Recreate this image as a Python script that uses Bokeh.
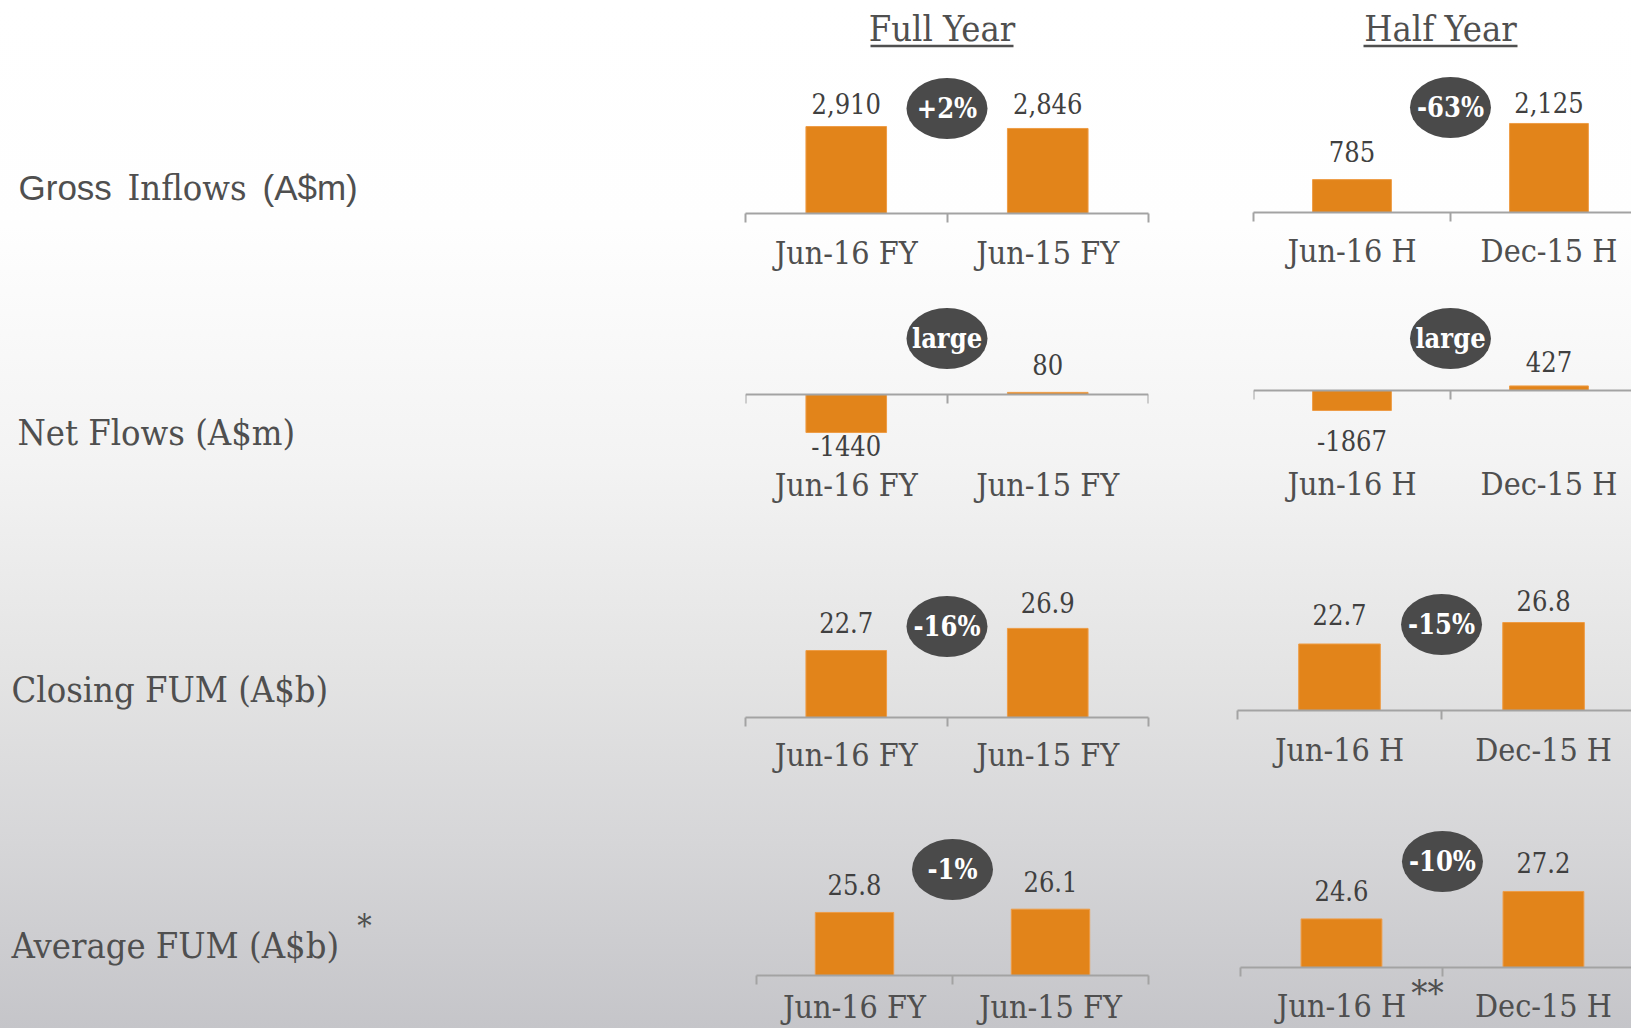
from bokeh.plotting import figure
from bokeh.layouts import row, column
from bokeh.models import Range1d, FixedTicker, LinearAxis, ColumnDataSource
from bokeh.core.properties import value
from bokeh.embed import file_html
from bokeh.resources import INLINE

# ---------------- data ----------------
row_titles = ["Gross Inflows (A$m)", "Net Flows (A$m)", "Closing FUM (A$b)", "Average FUM (A$b)"]
column_titles = ["Full Year", "Half Year"]
fy_categories = ["Jun-16 FY", "Jun-15 FY"]
hy_categories = ["Jun-16 H", "Dec-15 H"]
gross_inflows_fy = [2910, 2846]
gross_inflows_hy = [785, 2125]
net_flows_fy = [-1440, 80]
net_flows_hy = [-1867, 427]
closing_fum_fy = [22.7, 26.9]
closing_fum_hy = [22.7, 26.8]
average_fum_fy = [25.8, 26.1]
average_fum_hy = [24.6, 27.2]
change_fy = ["+2%", "large", "-16%", "-1%"]
change_hy = ["-63%", "large", "-15%", "-10%"]

# ---------------- style ----------------
SERIF = "DejaVu Serif Condensed"
SANS = "Liberation Sans"
BAR = "#E2841A"
BAR_EDGE = "#EE9C45"
BADGE = "#4A4A4A"
AXIS = "#A3A3A3"
TEXT = "#4F4F4F"
VALTEXT = "#404040"
GRADIENT = ("linear-gradient(to bottom, #ffffff 0%, #fefefe 22%, #f3f3f3 45%, "
            "#e4e4e4 65%, #d6d6d8 82%, #c5c5c9 100%)")


def fmt_thousands(v):
    return f"{v:,}"


def fmt_plain(v):
    return f"{v}"


def fmt_1dp(v):
    return f"{v:.1f}"


def clean(p):
    p.background_fill_alpha = 0
    p.border_fill_alpha = 0
    p.outline_line_color = None
    return p


def style_axis(ax, line=True, labels=True, standoff=10, size="32px"):
    ax.axis_line_color = AXIS if line else None
    ax.axis_line_width = 2
    ax.major_tick_line_color = None
    ax.major_tick_out = 0
    ax.major_tick_in = 0
    ax.minor_tick_line_color = AXIS if line else None
    ax.minor_tick_line_width = 2
    ax.minor_tick_out = 9 if line else 0
    ax.minor_tick_in = 0
    ax.major_label_standoff = standoff
    ax.major_label_text_font = SERIF
    ax.major_label_text_font_size = size
    ax.major_label_text_color = TEXT
    if not labels:
        ax.major_label_text_alpha = 0


def panel(cats, vals, fmt, change, *, width, height, left, right, top, frame_h,
          x_end, y_range, base, badge_px, label_d, standoff, mode="bottom", stars=None):
    bottom = height - top - frame_h
    y0, y1 = y_range
    p = figure(width=width, height=height, x_range=Range1d(0, x_end), y_range=Range1d(y0, y1),
               x_axis_type=None, y_axis_type=None, toolbar_location=None, output_backend="svg",
               min_border_left=left, min_border_right=right, min_border_top=top,
               min_border_bottom=bottom)
    p.frame_align = False
    clean(p)
    k = frame_h / (y1 - y0)
    p.extra_y_ranges = {"px": Range1d((y0 - base) * k, (y1 - base) * k)}

    xs = [i + 0.5 for i in range(len(cats))]
    src = ColumnDataSource(dict(
        x=xs, top=vals, label=[fmt(v) for v in vals],
        off=[-d if v >= 0 else d for v, d in zip(vals, label_d)],
    ))
    p.vbar(x="x", top="top", bottom=base, width=0.4, source=src,
           fill_color=BAR, line_color=BAR_EDGE, line_width=1)
    p.text(x="x", y="top", text="label", y_offset="off", text_baseline="middle", source=src,
           text_align="center", text_font=value(SERIF), text_font_size="27px",
           text_color=VALTEXT)

    p.ellipse(x=[1], y=[badge_px], width=81, height=61, width_units="screen",
              height_units="screen", y_range_name="px", fill_color=BADGE, line_color=None)
    p.text(x=[1], y=[badge_px], text=[change], y_range_name="px", text_align="center",
           text_baseline="middle", text_color="white", text_font_style="bold",
           text_font=value(SERIF), text_font_size="27px")

    bounds = list(range(len(cats) + 1))
    overrides = {x: c for x, c in zip(xs, cats)}
    if mode == "bottom":
        ax = LinearAxis(ticker=FixedTicker(ticks=xs, minor_ticks=bounds),
                        major_label_overrides=overrides)
        style_axis(ax, standoff=standoff)
        p.add_layout(ax, "below")
    else:  # "split": axis line at zero inside the frame, labels along the bottom
        line_ax = LinearAxis(ticker=FixedTicker(ticks=[], minor_ticks=bounds), fixed_location=base)
        style_axis(line_ax, labels=False)
        p.add_layout(line_ax, "below")
        lab_ax = LinearAxis(ticker=FixedTicker(ticks=xs, minor_ticks=[]),
                            major_label_overrides=overrides)
        style_axis(lab_ax, line=False, standoff=standoff)
        p.add_layout(lab_ax, "below")

    if stars is not None:
        sx, s_off, st = stars
        star_ax = LinearAxis(ticker=FixedTicker(ticks=[sx], minor_ticks=[]),
                             major_label_overrides={sx: st})
        style_axis(star_ax, line=False, standoff=s_off, size="36px")
        p.add_layout(star_ax, "below")
    return p


FYW, HYW = 500, 431

fy1 = panel(fy_categories, gross_inflows_fy, fmt_thousands, change_fy[0], width=FYW, height=225,
            left=45, right=52, top=0, frame_h=150, x_end=2, y_range=(0, 5020), base=0,
            badge_px=105, label_d=[23, 25], standoff=11)
hy1 = panel(hy_categories, gross_inflows_hy, fmt_thousands, change_hy[0], width=HYW, height=225,
            left=53, right=0, top=0, frame_h=149, x_end=1.919, y_range=(0, 3556), base=0,
            badge_px=105, label_d=[28, 21], standoff=10)

fy2 = panel(fy_categories, net_flows_fy, fmt_plain, change_fy[1], width=FYW, height=245,
            left=45, right=52, top=0, frame_h=170, x_end=2, y_range=(-2424, 4015), base=0,
            badge_px=56, label_d=[13, 28], standoff=7, mode="split")
hy2 = panel(hy_categories, net_flows_hy, fmt_plain, change_hy[1], width=HYW, height=245,
            left=53, right=0, top=0, frame_h=170, x_end=1.919, y_range=(-6355, 9533), base=0,
            badge_px=52, label_d=[30, 24], standoff=6, mode="split")

fy3 = panel(fy_categories, closing_fum_fy, fmt_1dp, change_fy[2], width=FYW, height=255,
            left=45, right=52, top=0, frame_h=184, x_end=2, y_range=(10, 44.9), base=10,
            badge_px=91, label_d=[28, 26], standoff=9)
hy3 = panel(hy_categories, closing_fum_hy, fmt_1dp, change_hy[2], width=HYW, height=255,
            left=37, right=0, top=0, frame_h=177, x_end=1.931, y_range=(10, 43.8), base=10,
            badge_px=86, label_d=[29, 22], standoff=11)

fy4 = panel(fy_categories, average_fum_fy, fmt_1dp, change_fy[3], width=FYW, height=240,
            left=56, right=52, top=0, frame_h=187, x_end=2, y_range=(20, 37.2), base=20,
            badge_px=106, label_d=[28, 28], standoff=3)
hy4 = panel(hy_categories, average_fum_hy, fmt_1dp, change_hy[3], width=HYW, height=240,
            left=40, right=0, top=0, frame_h=179, x_end=1.936, y_range=(20, 36.95), base=20,
            badge_px=106, label_d=[28, 29], standoff=10, stars=(0.926, -55, "**"))

# ---------------- header ----------------
HDR_H = 63
hdr = figure(width=FYW + HYW, height=HDR_H, x_range=Range1d(0, FYW + HYW),
             y_range=Range1d(HDR_H, 0), x_axis_type=None, y_axis_type=None,
             toolbar_location=None, output_backend="svg", min_border=0)
clean(hdr)
hdr_x = [241.5, 740]
hdr_half = [71.5, 77]
hdr.text(x=hdr_x, y=[28, 28], text=column_titles, text_align="center",
         text_baseline="middle", text_font=value(SERIF), text_font_size="36px",
         text_color=TEXT)
hdr.segment(x0=[c - h for c, h in zip(hdr_x, hdr_half)], y0=[45.5, 45.5],
            x1=[c + h for c, h in zip(hdr_x, hdr_half)], y1=[45.5, 45.5],
            line_color=TEXT, line_width=2.5)

# ---------------- row titles ----------------
PAGE_H = 1028
lf = figure(width=700, height=PAGE_H, x_range=Range1d(0, 700), y_range=Range1d(PAGE_H, 0),
            x_axis_type=None, y_axis_type=None, toolbar_location=None, output_backend="svg",
            min_border=0)
clean(lf)
g_words = row_titles[0].split(" ")  # Gross / Inflows / (A$m)
lf.text(x=[18, 262], y=[187, 187], text=[g_words[0], g_words[2]], text_align="left",
        text_baseline="middle", text_font=value(SANS), text_font_size="35px", text_color=TEXT)
lf.text(x=[127], y=[187], text=[g_words[1]], text_align="left", text_baseline="middle",
        text_font=value(SERIF), text_font_size="36px", text_color=TEXT)
lf.text(x=[17, 11, 11], y=[432, 689, 945], text=row_titles[1:], text_align="left",
        text_baseline="middle", text_font=value(SERIF), text_font_size="36px", text_color=TEXT)
lf.text(x=[364], y=[925], text=["*"], text_align="center", text_baseline="middle",
        text_font=value(SERIF), text_font_size="32px", text_color=TEXT)

right = column(hdr, row(fy1, hy1), row(fy2, hy2), row(fy3, hy3), row(fy4, hy4))
root = row(lf, right)
root.styles = {"background": GRADIENT}

open("out.html", "w").write(file_html(root, INLINE))
